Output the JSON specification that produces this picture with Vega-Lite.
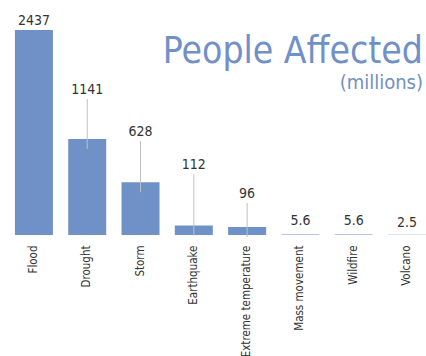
{
  "$schema": "https://vega.github.io/schema/vega-lite/v6.json",
  "width": 426,
  "height": 205,
  "autosize": "none",
  "padding": {"top": 30, "left": 0, "right": 0, "bottom": 121},
  "background": "white",
  "config": {"view": {"stroke": null}},
  "title": {
    "text": "People Affected",
    "subtitle": "(millions)",
    "anchor": "end",
    "frame": "group",
    "orient": "top",
    "offset": -80,
    "dx": -3,
    "font": "DejaVu Sans Condensed",
    "fontSize": 37,
    "fontWeight": "normal",
    "color": "#7090c8",
    "subtitleFont": "DejaVu Sans Condensed",
    "subtitleFontSize": 20,
    "subtitleColor": "#7090c8",
    "subtitlePadding": 2
  },
  "data": {
    "values": [
      {"type": "Flood", "value": 2437, "labelAt": 2437},
      {"type": "Drought", "value": 1141, "labelAt": 1617},
      {"type": "Storm", "value": 628, "labelAt": 1118},
      {"type": "Earthquake", "value": 112, "labelAt": 725},
      {"type": "Extreme temperature", "value": 96, "labelAt": 380},
      {"type": "Mass movement", "value": 5.6, "labelAt": 60},
      {"type": "Wildfire", "value": 5.6, "labelAt": 60},
      {"type": "Volcano", "value": 2.5, "labelAt": 30}
    ]
  },
  "encoding": {
    "x": {
      "field": "type",
      "type": "nominal",
      "sort": null,
      "scale": {"paddingInner": 0.287, "paddingOuter": 0.14, "align": 1},
      "axis": {
        "title": null,
        "labelAngle": -90,
        "labelFont": "DejaVu Sans Condensed",
        "labelFontSize": 11.5,
        "labelColor": "#333333",
        "labelPadding": 10,
        "labelLimit": 200,
        "ticks": false,
        "domain": false,
        "grid": false
      }
    }
  },
  "layer": [
    {
      "mark": {"type": "bar", "color": "#7090c8"},
      "encoding": {
        "y": {"field": "value", "type": "quantitative", "scale": {"domain": [0, 2437], "nice": false}, "axis": null}
      }
    },
    {
      "transform": [{"filter": "datum.labelAt > datum.value + 100"}],
      "mark": {"type": "rule", "color": "#c0c0c0", "strokeWidth": 1, "y2Offset": 10},
      "encoding": {
        "y": {"field": "labelAt", "type": "quantitative"},
        "y2": {"field": "value"}
      }
    },
    {
      "mark": {"type": "text", "baseline": "bottom", "dy": -2, "font": "DejaVu Sans Condensed", "fontSize": 14, "color": "#333333"},
      "encoding": {
        "y": {"field": "labelAt", "type": "quantitative"},
        "text": {"field": "value", "type": "nominal"}
      }
    }
  ]
}
